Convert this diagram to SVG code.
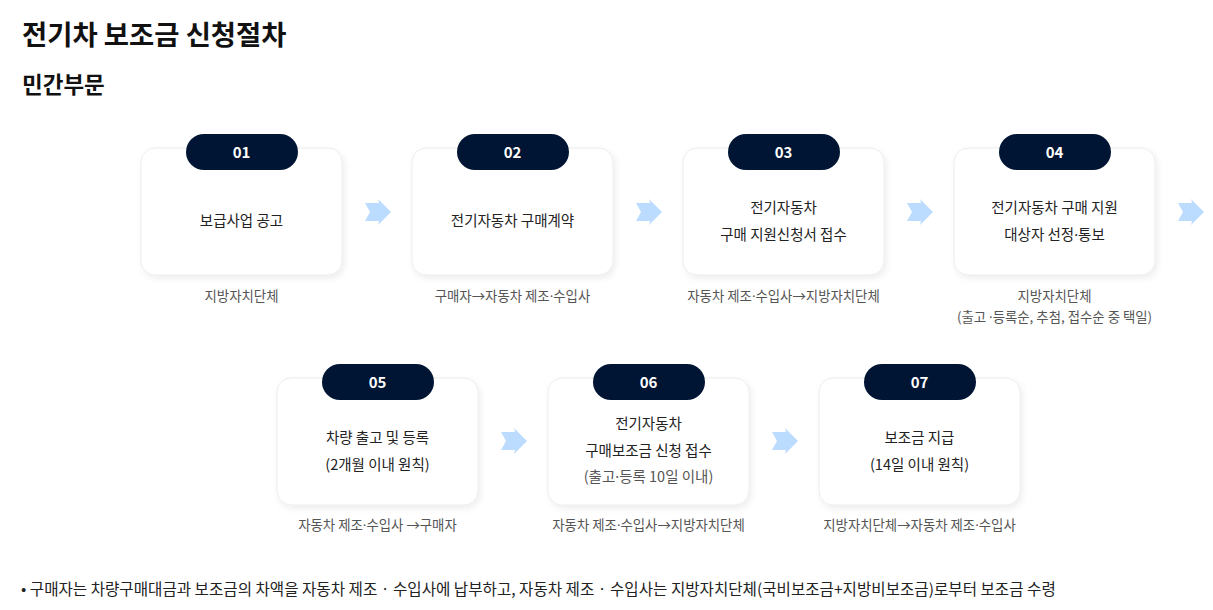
<svg xmlns="http://www.w3.org/2000/svg" width="1213" height="610" viewBox="0 0 1213 610">
<defs>
<style>
text{font-family:"Noto Sans CJK KR","Noto Sans",sans-serif}
.d{font-family:"Noto Sans",sans-serif}
.h1{font-size:27.4px;font-weight:700;fill:#111}
.h2{font-size:22.5px;font-weight:700;fill:#111}
.card{fill:#fff;stroke:#ececec;stroke-width:1}
.badge{fill:#001533}
.num{font-size:15px;font-weight:700;fill:#fff;text-anchor:middle}
.t{font-size:14.5px;fill:#222;text-anchor:middle}
.g{font-size:14.5px;fill:#555;text-anchor:middle}
.c{font-size:13.4px;fill:#555;text-anchor:middle}
.arr{fill:#bcdcff}
.note{font-size:15.6px;fill:#222}
</style>
<filter id="sh" x="-10%" y="-10%" width="130%" height="130%">
<feDropShadow dx="2" dy="3" stdDeviation="3" flood-color="#000" flood-opacity="0.07"/>
</filter>
<polygon id="ar" class="arr" points="-13,-9 1,-9 0,-13 13,0 0,13 1,9 -13,9 -8,0"/>
</defs>
<rect width="1213" height="610" fill="#fff"/>
<text class="h1" x="22" y="45">전기차 보조금 신청절차</text>
<text class="h2" x="22" y="93">민간부문</text>

<g id="connectors">
<use href="#ar" x="378" y="212"/>
<use href="#ar" x="649" y="212"/>
<use href="#ar" x="920" y="212"/>
<use href="#ar" x="1191" y="212"/>
<use href="#ar" x="514" y="441"/>
<use href="#ar" x="785" y="441"/>
</g>

<g id="step01">
<rect class="card" x="141" y="148" width="201" height="127" rx="14" filter="url(#sh)"/>
<rect class="badge" x="186" y="134" width="112" height="36" rx="18"/>
<text class="num" x="241.5" y="158">01</text>
<text class="t" x="241.5" y="226">보급사업 공고</text>
<text class="c" x="241.5" y="301">지방자치단체</text>
</g>
<g id="step02">
<rect class="card" x="412" y="148" width="201" height="127" rx="14" filter="url(#sh)"/>
<rect class="badge" x="457" y="134" width="112" height="36" rx="18"/>
<text class="num" x="512.5" y="158">02</text>
<text class="t" x="512.5" y="226">전기자동차 구매계약</text>
<text class="c" x="512.5" y="301">구매자→자동차 제조<tspan class="d">·</tspan>수입사</text>
</g>
<g id="step03">
<rect class="card" x="683" y="148" width="201" height="127" rx="14" filter="url(#sh)"/>
<rect class="badge" x="728" y="134" width="112" height="36" rx="18"/>
<text class="num" x="783.5" y="158">03</text>
<text class="t" x="783.5" y="213">전기자동차</text>
<text class="t" x="783.5" y="240">구매 지원신청서 접수</text>
<text class="c" x="783.5" y="301">자동차 제조<tspan class="d">·</tspan>수입사→지방자치단체</text>
</g>
<g id="step04">
<rect class="card" x="954" y="148" width="201" height="127" rx="14" filter="url(#sh)"/>
<rect class="badge" x="999" y="134" width="112" height="36" rx="18"/>
<text class="num" x="1054.5" y="158">04</text>
<text class="t" x="1054.5" y="213">전기자동차 구매 지원</text>
<text class="t" x="1054.5" y="240">대상자 선정<tspan class="d">·</tspan>통보</text>
<text class="c" x="1054.5" y="301">지방자치단체</text>
<text class="c" x="1054.5" y="322">(출고 <tspan class="d">·</tspan>등록순, 추첨, 접수순 중 택일)</text>
</g>
<g id="step05">
<rect class="card" x="277" y="378" width="201" height="127" rx="14" filter="url(#sh)"/>
<rect class="badge" x="322" y="364" width="112" height="36" rx="18"/>
<text class="num" x="377.5" y="388">05</text>
<text class="t" x="377.5" y="443">차량 출고 및 등록</text>
<text class="t" x="377.5" y="470">(2개월 이내 원칙)</text>
<text class="c" x="377.5" y="530">자동차 제조<tspan class="d">·</tspan>수입사 →구매자</text>
</g>
<g id="step06">
<rect class="card" x="548" y="378" width="201" height="127" rx="14" filter="url(#sh)"/>
<rect class="badge" x="593" y="364" width="112" height="36" rx="18"/>
<text class="num" x="648.5" y="388">06</text>
<text class="t" x="648.5" y="429">전기자동차</text>
<text class="t" x="648.5" y="456">구매보조금 신청 접수</text>
<text class="g" x="648.5" y="482">(출고<tspan class="d">·</tspan>등록 10일 이내)</text>
<text class="c" x="648.5" y="530">자동차 제조<tspan class="d">·</tspan>수입사→지방자치단체</text>
</g>
<g id="step07">
<rect class="card" x="819" y="378" width="201" height="127" rx="14" filter="url(#sh)"/>
<rect class="badge" x="864" y="364" width="112" height="36" rx="18"/>
<text class="num" x="919.5" y="388">07</text>
<text class="t" x="919.5" y="443">보조금 지급</text>
<text class="t" x="919.5" y="470">(14일 이내 원칙)</text>
<text class="c" x="919.5" y="530">지방자치단체→자동차 제조<tspan class="d">·</tspan>수입사</text>
</g>
<text class="note" x="21" y="595">• 구매자는 차량구매대금과 보조금의 차액을 자동차 제조 · 수입사에 납부하고, 자동차 제조 · 수입사는 지방자치단체(국비보조금+지방비보조금)로부터 보조금 수령</text>
</svg>
